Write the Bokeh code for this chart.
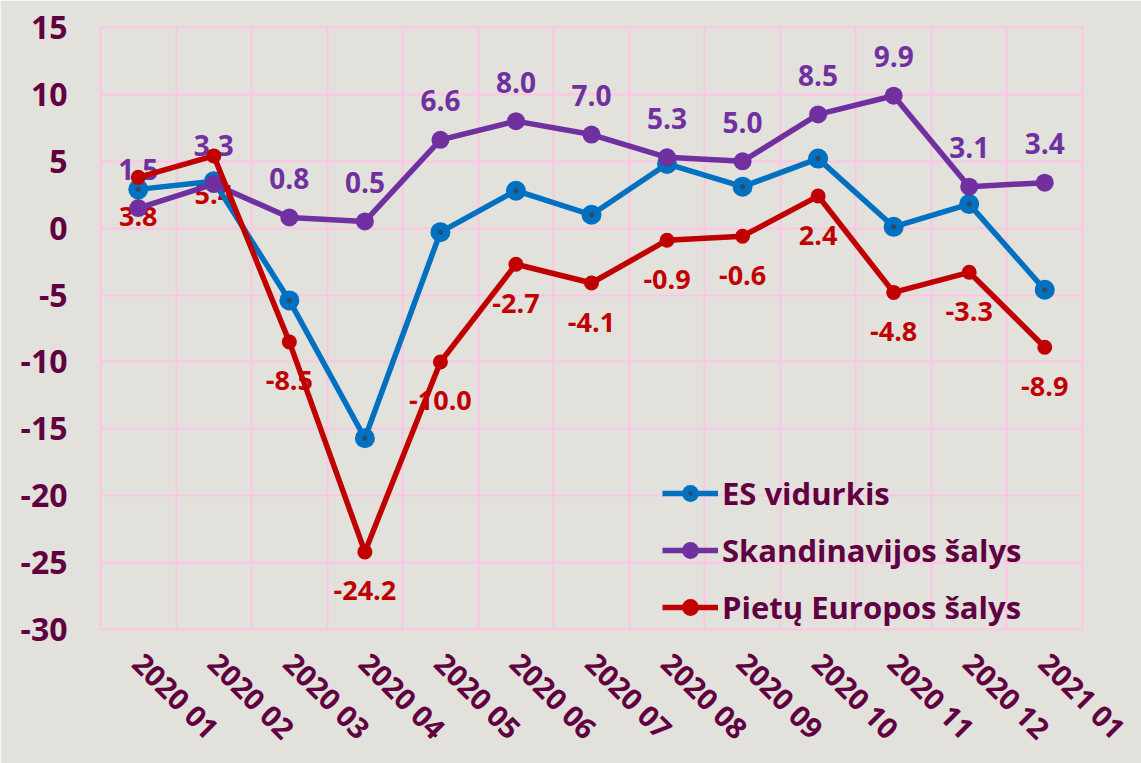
from bokeh.plotting import figure
from bokeh.models import FixedTicker, Legend, LegendItem, Range1d
from bokeh.core.properties import value
from bokeh.embed import file_html
from bokeh.resources import INLINE

months = ["2020 01", "2020 02", "2020 03", "2020 04", "2020 05", "2020 06", "2020 07",
          "2020 08", "2020 09", "2020 10", "2020 11", "2020 12", "2021 01"]
es_avg = [2.9, 3.5, -5.4, -15.7, -0.3, 2.8, 1.0, 4.8, 3.1, 5.2, 0.1, 1.8, -4.6]
scandinavia = [1.5, 3.3, 0.8, 0.5, 6.6, 8.0, 7.0, 5.3, 5.0, 8.5, 9.9, 3.1, 3.4]
south_europe = [3.8, 5.4, -8.5, -24.2, -10.0, -2.7, -4.1, -0.9, -0.6, 2.4, -4.8, -3.3, -8.9]
y_ticks = [-30, -25, -20, -15, -10, -5, 0, 5, 10, 15]
series_names = ["ES vidurkis", "Skandinavijos šalys", "Pietų Europos šalys"]

BG = "#E3E1DC"
GRID = "#FFC4E4"
TXT = "#600040"
BLUE = "#0070C0"
PURPLE = "#7030A0"
RED = "#C00000"
FONT = "Open Sans"

xs = list(range(len(months)))

p = figure(width=1141, height=763, output_backend="svg", toolbar_location=None,
           x_range=Range1d(-0.5, len(months) - 0.5), y_range=Range1d(-30, 15),
           min_border_left=100, min_border_right=59, min_border_top=27, min_border_bottom=133)
p.background_fill_color = BG
p.border_fill_color = BG
p.outline_line_color = GRID
p.outline_line_width = 2

# axes
p.xaxis.ticker = FixedTicker(ticks=xs)
p.xaxis.major_label_overrides = {i: m for i, m in zip(xs, months)}
p.xaxis.major_label_orientation = -0.785
p.yaxis.ticker = FixedTicker(ticks=y_ticks)
p.yaxis.major_label_overrides = {t: str(t) for t in y_ticks}
for ax in (p.xaxis, p.yaxis):
    ax.axis_line_color = None
    ax.major_tick_line_color = None
    ax.minor_tick_line_color = None
    ax.major_tick_out = 0
    ax.major_tick_in = 0
    ax.major_label_text_color = TXT
    ax.major_label_text_font = FONT
    ax.major_label_text_font_style = "bold"
p.yaxis.major_label_text_font_size = "32px"
p.yaxis.major_label_standoff = 33
p.xaxis.major_label_text_font_size = "29px"
p.xaxis.major_label_standoff = 28

p.xgrid.ticker = FixedTicker(ticks=[i - 0.5 for i in range(len(months) + 1)])
p.xgrid.grid_line_color = GRID
p.xgrid.grid_line_width = 2
p.ygrid.grid_line_color = GRID
p.ygrid.grid_line_width = 2

# data labels (under lines)
p.text(xs, scandinavia, text=[f"{v:.1f}" for v in scandinavia], y_offset=-39,
       text_align="center", text_baseline="middle", text_color=PURPLE,
       text_font=value(FONT), text_font_style="bold", text_font_size="28px")
p.text(xs, south_europe, text=[f"{v:.1f}" for v in south_europe], y_offset=39,
       text_align="center", text_baseline="middle", text_color=RED,
       text_font=value(FONT), text_font_style="bold", text_font_size="27px")

# series
b_line = p.line(xs, es_avg, line_color=BLUE, line_width=5.5)
b_circ = p.scatter(xs, es_avg, size=20, fill_color=BLUE, line_color=None)
b_dot = p.scatter(xs, es_avg, marker="dot", size=20, fill_color="#2E4A62", line_color="#2E4A62")

s_line = p.line(xs, scandinavia, line_color=PURPLE, line_width=5.5)
s_circ = p.scatter(xs, scandinavia, size=18, fill_color=PURPLE, line_color=None)

r_line = p.line(xs, south_europe, line_color=RED, line_width=5.5)
r_circ = p.scatter(xs, south_europe, size=15, fill_color=RED, line_color=None)

legend = Legend(items=[
    LegendItem(label=series_names[0], renderers=[b_line, b_circ, b_dot]),
    LegendItem(label=series_names[1], renderers=[s_line, s_circ]),
    LegendItem(label=series_names[2], renderers=[r_line, r_circ]),
], location=(562, 1))
legend.background_fill_alpha = 0
legend.border_line_color = None
legend.padding = 0
legend.margin = 0
legend.spacing = 15
legend.glyph_width = 56
legend.glyph_height = 42
legend.label_height = 42
legend.label_standoff = 4
legend.label_text_font = FONT
legend.label_text_font_style = "bold"
legend.label_text_font_size = "31px"
legend.label_text_color = TXT
legend.label_text_baseline = "middle"
p.add_layout(legend)

open("out.html", "w").write(file_html(p, INLINE))
